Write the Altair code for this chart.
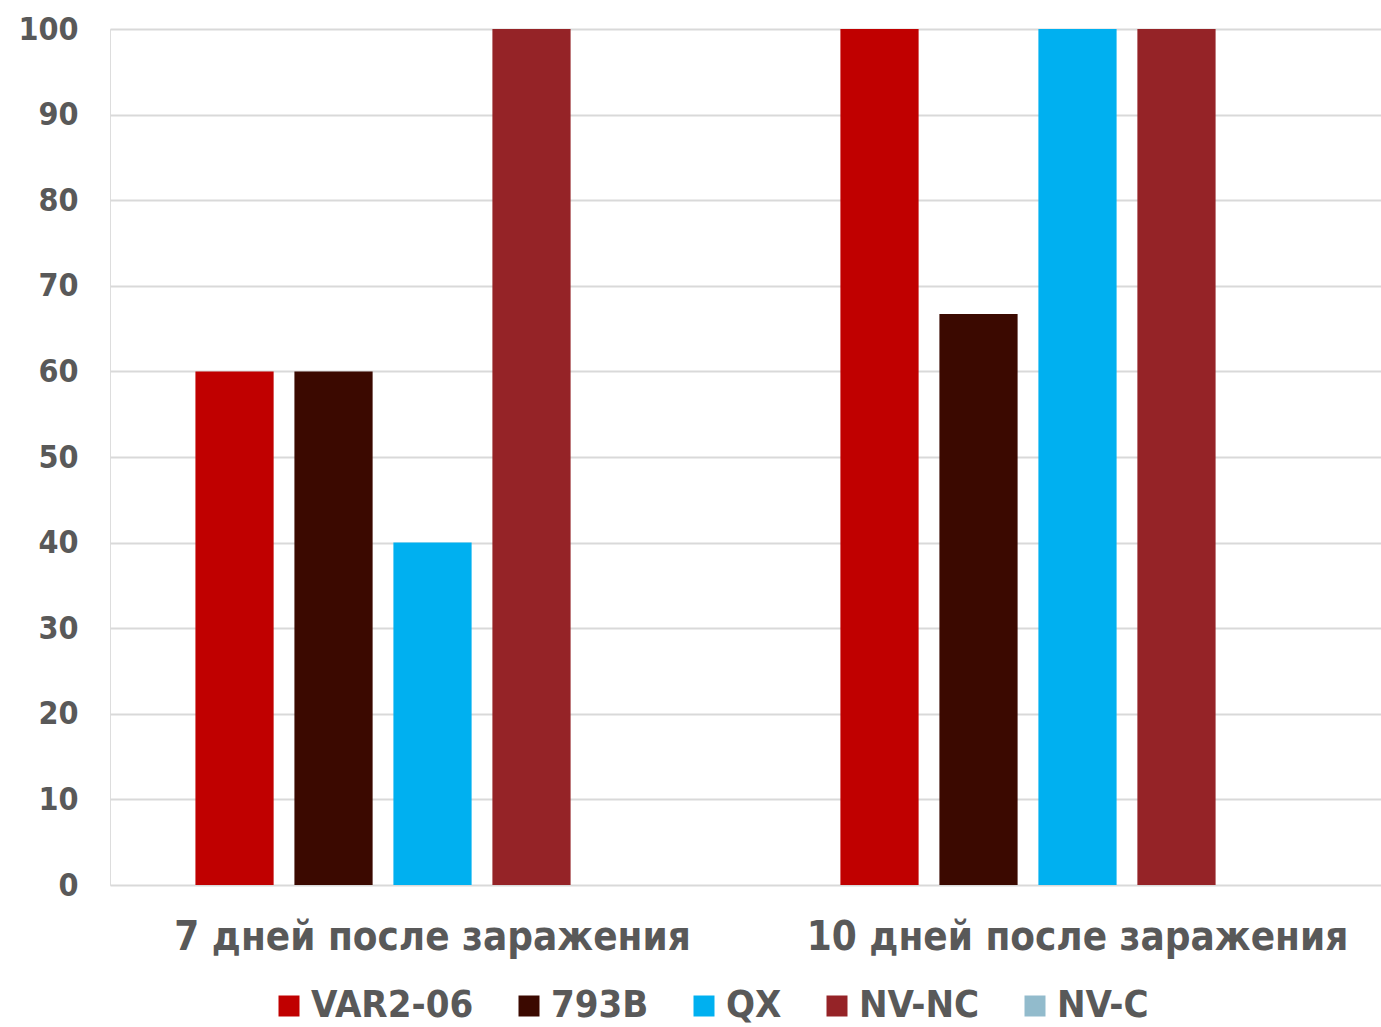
import altair as alt
import pandas as pd

groups = ["7 дней после заражения", "10 дней после заражения"]
series = ["VAR2-06", "793B", "QX", "NV-NC", "NV-C"]
colors = ["#C00000", "#3B0900", "#00B0F0", "#952327", "#92BBCC"]
var2_06 = [60, 100]
b793 = [60, 66.7]
qx = [40, 100]
nv_nc = [100, 100]
nv_c = [0, 0]
y_ticks = [0, 10, 20, 30, 40, 50, 60, 70, 80, 90, 100]

vals = [var2_06, b793, qx, nv_nc, nv_c]
rows = []
for s, v in zip(series, vals):
    for g, val in zip(groups, v):
        rows.append({"group": g, "series": s, "value": val})
df = pd.DataFrame(rows)

FONT = "DejaVu Sans Condensed, Roboto Condensed, Liberation Sans, sans-serif"
GRAY = "#595959"

chart = alt.Chart(df).mark_bar().encode(
    x=alt.X("group:N", sort=groups, title=None,
            scale=alt.Scale(paddingInner=0.2326, paddingOuter=0.1016, align=0.5725),
            axis=alt.Axis(labelAngle=0, labelFontSize=40, labelFont=FONT, labelFontWeight="bold",
                          labelColor=GRAY, ticks=False, domain=False, labelPadding=32,
                          labelLimit=0)),
    xOffset=alt.XOffset("series:N", sort=series,
                        scale=alt.Scale(paddingInner=0.21, paddingOuter=0.105)),
    y=alt.Y("value:Q", title=None, scale=alt.Scale(domain=[0, 100], nice=False),
            axis=alt.Axis(values=y_ticks, labelFontSize=32, labelFont=FONT, labelFontWeight="bold",
                          labelColor=GRAY, ticks=False, domain=False, labelPadding=32,
                          gridColor="#D9D9D9", gridWidth=2)),
    color=alt.Color("series:N", sort=series, scale=alt.Scale(domain=series, range=colors),
                    legend=alt.Legend(title=None, orient="none", legendX=160, legendY=958,
                                      direction="horizontal", columns=5,
                                      symbolType="square", symbolSize=441, symbolStrokeWidth=0,
                                      labelFontSize=38, labelFont=FONT, labelFontWeight="bold",
                                      labelColor=GRAY, columnPadding=36, labelOffset=3,
                                      labelLimit=0, padding=0)),
).properties(
    width=1271, height=856,
    padding={"left": 110, "top": 29, "right": 0, "bottom": 142},
    autosize=alt.AutoSizeParams(type="none"),
).configure_view(stroke=None).configure(background="white")

chart.save("out.html", embed_options={"renderer": "svg", "actions": False})
